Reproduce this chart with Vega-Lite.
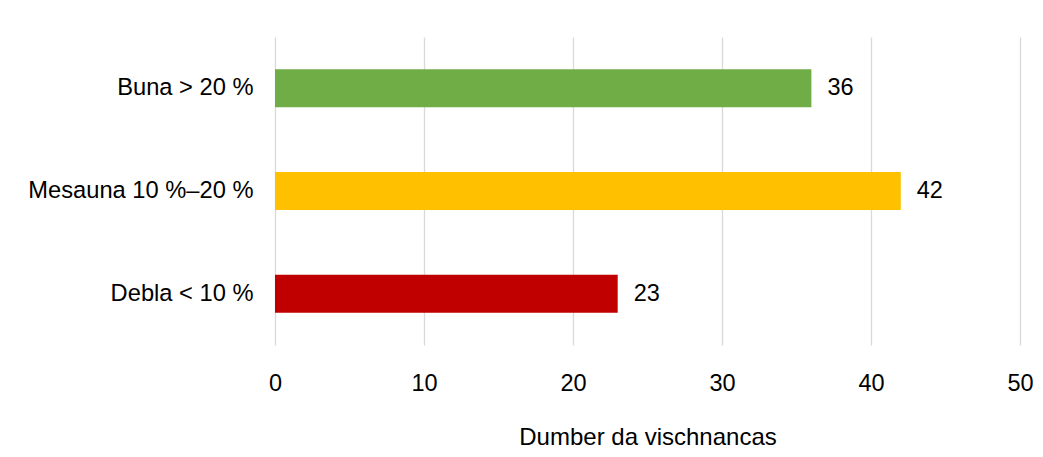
{
  "$schema": "https://vega.github.io/schema/vega-lite/v6.json",
  "autosize": "none",
  "width": 745,
  "height": 308,
  "padding": {"left": 275, "top": 37, "right": 23, "bottom": 112},
  "background": "white",
  "config": {
    "view": {"stroke": null},
    "font": "Liberation Sans"
  },
  "data": {
    "values": [
      {"category": "Buna > 20 %", "value": 36, "color": "#70AD47"},
      {"category": "Mesauna 10 %–20 %", "value": 42, "color": "#FFC000"},
      {"category": "Debla < 10 %", "value": 23, "color": "#C00000"}
    ]
  },
  "encoding": {
    "y": {
      "field": "category",
      "type": "nominal",
      "sort": null,
      "scale": {"paddingInner": 0.63, "paddingOuter": 0.315},
      "axis": {
        "title": null,
        "domain": false,
        "ticks": false,
        "labelFontSize": 23.7,
        "labelColor": "#000000",
        "labelPadding": 22,
        "labelLimit": 400,
        "labelFont": "Liberation Sans"
      }
    },
    "x": {
      "field": "value",
      "type": "quantitative",
      "scale": {"domain": [0, 50]},
      "axis": {
        "values": [0, 10, 20, 30, 40, 50],
        "title": "Dumber da vischnancas",
        "titleFontSize": 24,
        "titleFontWeight": "normal",
        "titleColor": "#000000",
        "titlePadding": 31,
        "labelFontSize": 23.5,
        "labelColor": "#000000",
        "labelPadding": 26,
        "labelFlush": false,
        "domain": false,
        "ticks": false,
        "grid": true,
        "gridColor": "#d9d9d9",
        "gridWidth": 1.3
      }
    }
  },
  "layer": [
    {
      "mark": {"type": "bar"},
      "encoding": {
        "color": {"field": "color", "type": "nominal", "scale": null, "legend": null}
      }
    },
    {
      "mark": {"type": "text", "align": "left", "dx": 16, "fontSize": 23.5, "color": "#000000"},
      "encoding": {
        "text": {"field": "value", "type": "quantitative"}
      }
    }
  ]
}
